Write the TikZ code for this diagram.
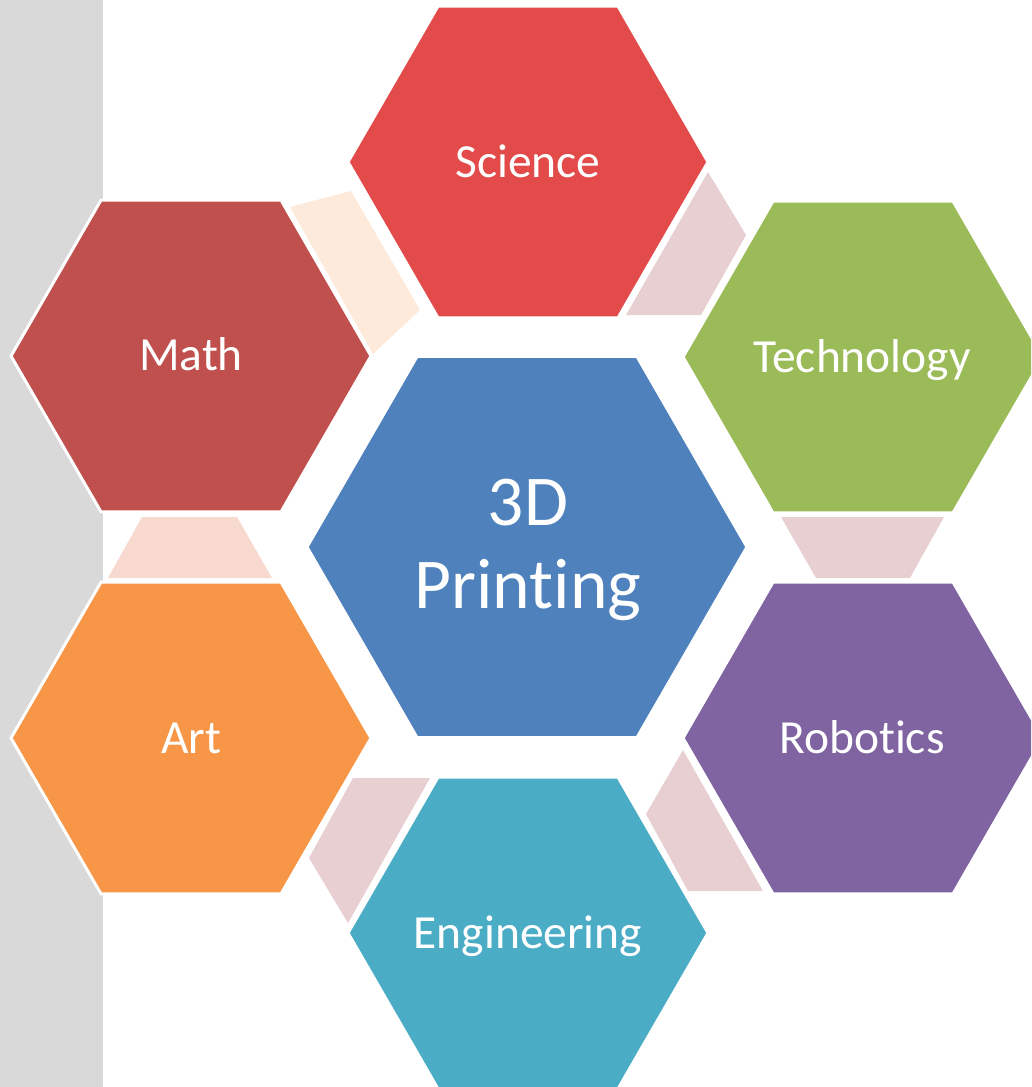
\documentclass[tikz,border=0pt]{standalone}
\usepackage{fontspec}
\setmainfont{Carlito}[Ligatures={NoCommon,NoContextual,NoRare}]
\usetikzlibrary{shapes.geometric}
\definecolor{bandgray}{HTML}{D9D9D9}
\definecolor{sciencered}{HTML}{E34B4B}
\definecolor{mathred}{HTML}{C0504D}
\definecolor{techgreen}{HTML}{9BBB59}
\definecolor{coreblue}{HTML}{4F81BD}
\definecolor{artorange}{HTML}{F79646}
\definecolor{robopurple}{HTML}{8064A2}
\definecolor{engcyan}{HTML}{4BACC6}
\definecolor{linkpeach}{HTML}{FDEADA}
\definecolor{linkpink}{HTML}{E8D0D2}
\definecolor{linkrose}{HTML}{F8D9CF}
\begin{document}
\begin{tikzpicture}[x=1pt,y=-1pt,
  hexa/.style={regular polygon, regular polygon sides=6,
    minimum size=360pt, inner sep=0pt, draw=white, line width=3pt, fill=#1},
  bighexa/.style={hexa=#1, minimum size=440pt},
  linkband/.style={fill=#1},
  lbl/.style={text=white, anchor=base, inner sep=0pt, font=\fontsize{47.5}{56}\selectfont},
  biglbl/.style={lbl, font=\fontsize{71.5}{84}\selectfont}]
\useasboundingbox (0,0) rectangle (1031,1087);
\clip (0,0) rectangle (1031,1087);

% side band
\fill[bandgray] (0,0) rectangle (103,1087);

% joining bands between neighbouring hexagons
\fill[linkband=linkpeach] (290,207) -- (351,191) -- (420,310) -- (373,354) -- cycle;
\fill[linkband=linkpink]  (708,172) -- (746,235) -- (701,315) -- (626,315) -- cycle;
\fill[linkband=linkpink]  (781,517) -- (944,517) -- (910,578) -- (816,578) -- cycle;
\fill[linkband=linkpink]  (683,750) -- (763,891) -- (688,891) -- (646,814) -- cycle;
\fill[linkband=linkpink]  (353,778) -- (430,778) -- (348,923) -- (309,858) -- cycle;
\fill[linkband=linkrose]  (142,517) -- (237,517) -- (272,578) -- (108,578) -- cycle;

% hexagons
\node[hexa=sciencered] (science) at (528,162) {};
\node[hexa=mathred]    (math)    at (191,356) {};
\node[hexa=techgreen]  (tech)    at (863,357) {};
\node[hexa=artorange]  (art)     at (191,738) {};
\node[hexa=robopurple] (robo)    at (863,738) {};
\node[hexa=engcyan]    (eng)     at (528,933) {};
\node[bighexa=coreblue] (core)   at (527,547) {};

% labels
\node[lbl] (sciencetext) at (528,177) {Science};
\node[lbl] (mathtext)    at (191,370) {Math};
\node[lbl] (techtext)    at (862,372) {Technology};
\node[lbl] (arttext)     at (191,753) {Art};
\node[lbl] (robotext)    at (862,753) {Robotics};
\node[lbl] (engtext)     at (528,948) {Engineering};
\node[biglbl] (coretextA) at (528,525) {3D};
\node[biglbl] (coretextB) at (528,608) {Printing};
\end{tikzpicture}
\end{document}
